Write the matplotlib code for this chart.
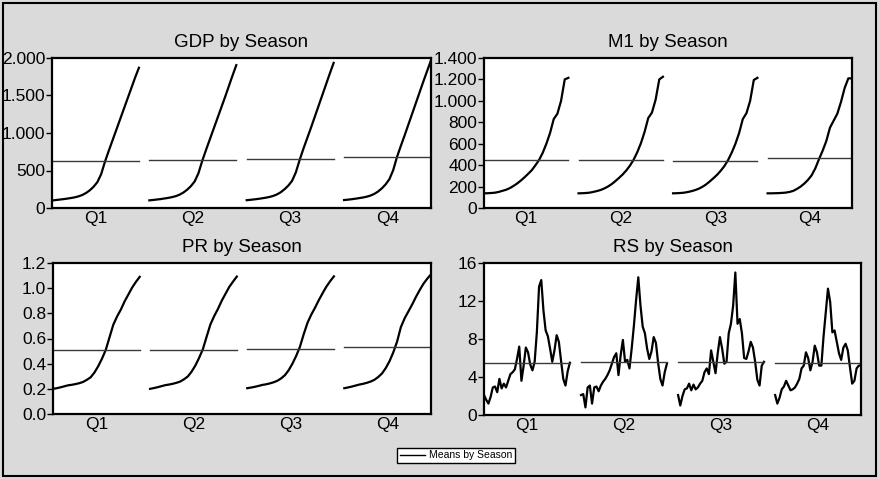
import numpy as np
import matplotlib.pyplot as plt
from matplotlib.lines import Line2D
from matplotlib.patches import Rectangle
from matplotlib.ticker import FuncFormatter, MultipleLocator

plt.rcParams['font.family'] = ['Liberation Sans', 'DejaVu Sans']

# Season labels
seasons = ['Q1', 'Q2', 'Q3', 'Q4']

# GDP by quarter
gdp_q1 = [100, 106, 112, 118, 125, 133, 142, 155, 173, 200, 236, 283, 345, 450, 615, 760, 900, 1040, 1180, 1320, 1460, 1600, 1740, 1870]
gdp_q2 = [102, 107, 113, 119, 127, 135, 145, 158, 178, 206, 244, 292, 355, 465, 630, 775, 915, 1055, 1195, 1335, 1475, 1620, 1765, 1905]
gdp_q3 = [104, 109, 115, 121, 129, 137, 147, 161, 181, 210, 250, 298, 362, 475, 640, 790, 930, 1070, 1215, 1360, 1505, 1650, 1795, 1935]
gdp_q4 = [106, 111, 117, 124, 132, 140, 151, 166, 188, 220, 262, 315, 385, 505, 680, 825, 965, 1110, 1255, 1400, 1545, 1690, 1830, 1970]

# M1 by quarter
m1_q1 = [137, 138, 140, 143, 150, 160, 170, 185, 205, 228, 255, 285, 318, 352, 398, 448, 515, 600, 700, 830, 880, 1000, 1200, 1215]
m1_q2 = [137, 138, 140, 143, 150, 158, 168, 182, 200, 222, 250, 280, 312, 350, 395, 450, 520, 605, 710, 840, 890, 1010, 1200, 1225]
m1_q3 = [137, 138, 140, 143, 149, 157, 167, 180, 198, 220, 248, 278, 310, 348, 392, 448, 518, 600, 700, 830, 885, 1000, 1195, 1215]
m1_q4 = [137, 137, 138, 139, 141, 144, 150, 160, 178, 200, 228, 262, 305, 370, 455, 535, 625, 750, 815, 880, 990, 1120, 1210, 1210]

# PR by quarter
pr_q1 = [0.200, 0.205, 0.212, 0.220, 0.228, 0.232, 0.238, 0.245, 0.255, 0.272, 0.292, 0.330, 0.380, 0.440, 0.510, 0.610, 0.710, 0.775, 0.830, 0.895, 0.950, 1.005, 1.050, 1.090]
pr_q2 = [0.200, 0.206, 0.213, 0.221, 0.229, 0.234, 0.240, 0.248, 0.258, 0.276, 0.298, 0.336, 0.385, 0.446, 0.515, 0.615, 0.712, 0.778, 0.835, 0.900, 0.955, 1.010, 1.052, 1.092]
pr_q3 = [0.205, 0.210, 0.216, 0.223, 0.231, 0.236, 0.243, 0.252, 0.264, 0.283, 0.308, 0.348, 0.400, 0.462, 0.535, 0.635, 0.725, 0.790, 0.845, 0.905, 0.960, 1.012, 1.055, 1.094]
pr_q4 = [0.205, 0.211, 0.218, 0.226, 0.234, 0.240, 0.248, 0.258, 0.272, 0.294, 0.322, 0.365, 0.420, 0.490, 0.575, 0.690, 0.760, 0.815, 0.870, 0.930, 0.985, 1.035, 1.075, 1.110]

# RS by quarter
rs_q1 = [2.1, 1.6, 1.2, 1.9, 2.9, 3.0, 2.4, 3.8, 2.8, 3.3, 2.9, 3.6, 4.3, 4.5, 4.8, 5.9, 7.2, 3.6, 5.2, 7.1,
         6.6, 5.3, 4.7, 5.6, 8.7, 13.5, 14.2, 11.0, 8.9, 8.3, 7.0, 5.6, 6.8, 8.4, 7.7, 5.7, 3.8, 3.1, 4.6, 5.5]
rs_q2 = [2.1, 2.2, 0.8, 2.9, 3.1, 1.2, 2.9, 3.0, 2.5, 3.1, 3.5, 3.8, 4.2, 4.7, 5.4, 6.1, 6.5, 4.2, 6.3, 7.9,
         5.6, 5.8, 4.9, 7.0, 9.4, 12.1, 14.5, 11.5, 9.3, 8.6, 7.0, 5.9, 6.7, 8.2, 7.6, 5.5, 3.8, 3.1, 4.5, 5.4]
rs_q3 = [2.1, 1.0, 2.0, 2.7, 2.8, 3.3, 2.6, 3.2, 2.7, 2.9, 3.3, 3.6, 4.5, 4.9, 4.3, 6.8, 5.6, 4.4, 6.5, 8.2,
         7.0, 5.4, 5.6, 8.6, 9.6, 11.5, 15.0, 9.6, 10.1, 8.6, 6.0, 5.9, 6.7, 7.7, 7.1, 5.6, 3.7, 3.1, 5.2, 5.6]
rs_q4 = [2.1, 1.2, 1.8, 2.7, 3.0, 3.6, 3.1, 2.6, 2.7, 2.9, 3.3, 3.8, 4.9, 5.2, 6.6, 6.0, 4.7, 5.6, 7.3, 6.6,
         5.2, 5.2, 8.3, 10.8, 13.3, 11.9, 8.7, 8.9, 7.7, 6.5, 5.8, 7.1, 7.5, 6.8, 5.0, 3.3, 3.6, 4.9, 5.2, 5.2]


def thousands(v, pos):
    return f"{int(round(v)):,}".replace(',', '.')


panels = [
    ('GDP by Season', [gdp_q1, gdp_q2, gdp_q3, gdp_q4], 2000, 500, FuncFormatter(thousands),
     [52, 58, 431, 208], 0.12),
    ('M1 by Season', [m1_q1, m1_q2, m1_q3, m1_q4], 1400, 200, FuncFormatter(thousands),
     [484, 58, 852, 208], 0.12),
    ('PR by Season', [pr_q1, pr_q2, pr_q3, pr_q4], 1.2, 0.2, FuncFormatter(lambda v, p: f"{v:.1f}"),
     [53, 263, 431, 414], 0.12),
    ('RS by Season', [rs_q1, rs_q2, rs_q3, rs_q4], 16, 4, FuncFormatter(lambda v, p: f"{int(round(v))}"),
     [484, 263, 861, 415], 0.13),
]

W, H = 880, 479
fig = plt.figure(figsize=(W / 100, H / 100), dpi=100, facecolor='#dadada')

for title, series, ymax, ystep, fmt, (x0, y0, x1, y1), gap in panels:
    ax = fig.add_axes([x0 / W, (H - y1) / H, (x1 - x0) / W, (y1 - y0) / H])
    centers = []
    for k, vals in enumerate(series):
        start = k * (1 + gap)
        x = start + np.linspace(0, 1, len(vals))
        ax.plot(x, vals, color='black', lw=1.6)
        # mean of each season
        ax.plot([start, start + 1], [np.mean(vals)] * 2, color='#3a3a3a', lw=1.0)
        centers.append(start + 0.5)
    ax.set_xlim(0, 4 + 3 * gap)
    ax.set_ylim(0, ymax)
    ax.yaxis.set_major_locator(MultipleLocator(ystep))
    ax.yaxis.set_major_formatter(fmt)
    ax.set_xticks(centers)
    ax.set_xticklabels(seasons)
    ax.tick_params(axis='y', direction='out', length=4, width=1, pad=1, labelsize=12.5)
    ax.tick_params(axis='x', length=0, pad=2, labelsize=12.5)
    for s in ax.spines.values():
        s.set_linewidth(1.6)
    ax.set_title(title, fontsize=13.5, pad=8)

handle = Line2D([], [], color='black', lw=1.0)
fig.legend([handle], ['Means by Season'], loc='center',
           bbox_to_anchor=(456 / W, (H - 455.5) / H), fontsize=7.5,
           frameon=True, fancybox=False, edgecolor='black', framealpha=1,
           handlelength=2.4, borderpad=0.25, handletextpad=0.4)

fig.add_artist(Rectangle((3 / W, 3 / H), 873 / W, 473 / H, transform=fig.transFigure,
                         fill=False, ec='black', lw=1.5))

fig.savefig('out.png', dpi=100, facecolor=fig.get_facecolor())
